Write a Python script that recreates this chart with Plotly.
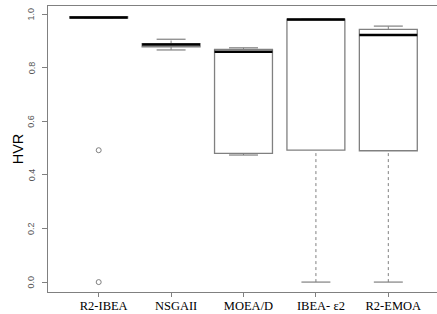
import plotly.graph_objects as go

algorithms = ["R2-IBEA", "NSGAII", "MOEA/D", "IBEA- \u03b52", "R2-EMOA"]
lower_whisker = [0.985, 0.866, 0.474, 0.000, 0.000]
q1 = [0.985, 0.878, 0.480, 0.492, 0.490]
median = [0.987, 0.886, 0.859, 0.980, 0.922]
q3 = [0.990, 0.890, 0.868, 0.981, 0.943]
upper_whisker = [0.990, 0.906, 0.874, 0.981, 0.955]
outlier_x = ["R2-IBEA", "R2-IBEA"]
outlier_y = [0.492, 0.000]
y_ticks = [0.0, 0.2, 0.4, 0.6, 0.8, 1.0]

pos = {a: i + 1 for i, a in enumerate(algorithms)}
BOXW = 0.8
CAPW = 0.4
GRAY = "#808080"

fig = go.Figure()

# boxes (body only)
fig.add_trace(go.Box(
    x=[pos[a] for a in algorithms], q1=q1, median=median, q3=q3,
    lowerfence=q1, upperfence=q3, width=BOXW, whiskerwidth=0,
    fillcolor="white", line=dict(color=GRAY, width=1.3),
    boxpoints=False, hoverinfo="skip", showlegend=False,
))

# whiskers and caps
for i, a in enumerate(algorithms):
    x = pos[a]
    for lo, hi in ((lower_whisker[i], q1[i]), (q3[i], upper_whisker[i])):
        if hi - lo > 1e-9:
            fig.add_trace(go.Scatter(x=[x, x], y=[lo, hi], mode="lines",
                                     line=dict(color=GRAY, width=1, dash="3px,3px"),
                                     showlegend=False, hoverinfo="skip"))
    for v in (lower_whisker[i], upper_whisker[i]):
        fig.add_trace(go.Scatter(x=[x - CAPW / 2, x + CAPW / 2], y=[v, v], mode="lines",
                                 line=dict(color=GRAY, width=1.2),
                                 showlegend=False, hoverinfo="skip"))
    # median bold line
    fig.add_trace(go.Scatter(x=[x - BOXW / 2, x + BOXW / 2], y=[median[i], median[i]],
                             mode="lines", line=dict(color="black", width=2.5),
                             showlegend=False, hoverinfo="skip"))

# outliers
fig.add_trace(go.Scatter(x=[pos[a] for a in outlier_x], y=outlier_y, mode="markers",
                         marker=dict(symbol="circle-open", size=5, color=GRAY,
                                     line=dict(width=1, color=GRAY)),
                         showlegend=False, hoverinfo="skip"))

# rotated y tick labels (R style), placed at the tick values
for v in y_ticks:
    fig.add_annotation(x=0, xref="paper", y=v, yref="y", text=f"{v:.1f}",
                       textangle=-90, showarrow=False, xanchor="center", yanchor="middle",
                       xshift=-16.5,
                       font=dict(family="Liberation Sans", size=9, color="#555"))

fig.update_layout(
    width=439, height=314,
    margin=dict(l=48, r=0, t=6, b=22),
    plot_bgcolor="white", paper_bgcolor="white",
    xaxis=dict(
        range=[0.3, 5.7], tickvals=[pos[a] for a in algorithms], ticktext=algorithms,
        showgrid=False, zeroline=False, showline=True, mirror=True,
        linecolor=GRAY, linewidth=1.3, ticks="outside", ticklen=4, tickcolor=GRAY,
        ticklabelshift=5, ticklabelstandoff=-2,
        tickfont=dict(family="Liberation Serif", size=12.5, color="black"),
    ),
    yaxis=dict(
        range=[-0.037, 1.030], tickvals=y_ticks, showticklabels=False,
        showgrid=False, zeroline=False, showline=True, mirror=False,
        linecolor=GRAY, linewidth=1.3, ticks="outside", ticklen=5, tickcolor=GRAY,
        title=dict(text="HVR", font=dict(family="Liberation Sans", size=14.5, color="black"),
                   standoff=14),
    ),
)

fig.write_html("out.html", config={"displayModeBar": False},
               post_script="document.body.style.margin='0';document.body.style.overflow='hidden';")
